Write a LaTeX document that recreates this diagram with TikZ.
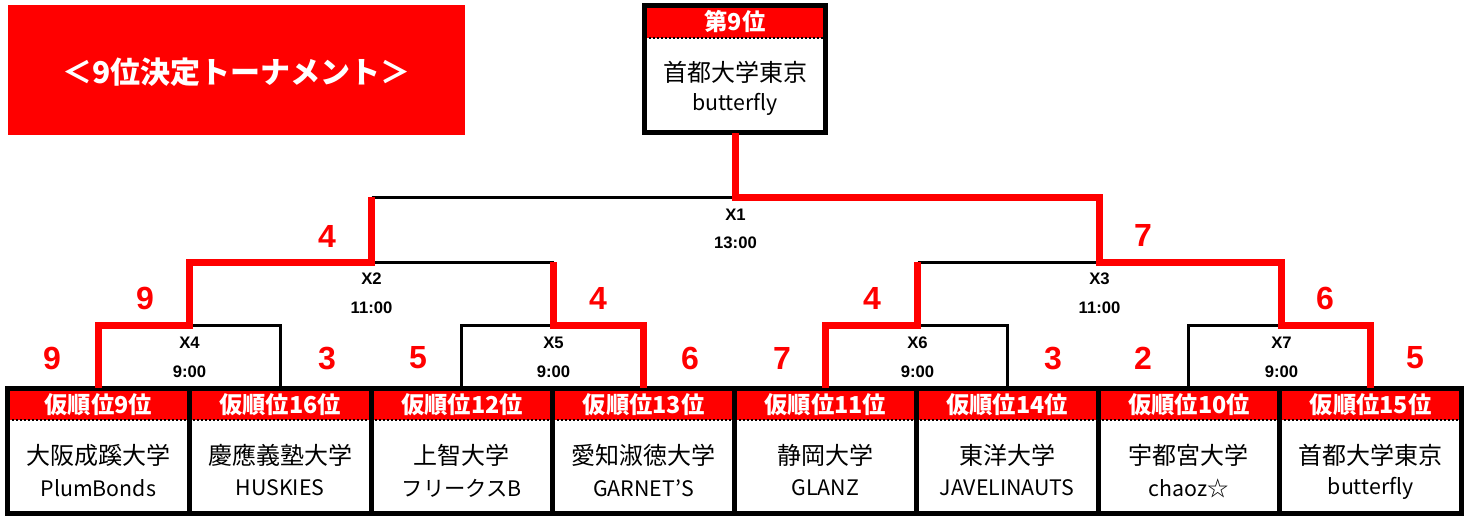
\documentclass[tikz,border=0pt]{standalone}
\usepackage{fontspec}
\usepackage{xcolor}
\usepackage{tikz}
\usetikzlibrary{calc}
\newfontfamily\jpfont{Noto Sans CJK JP}
\newfontfamily\numfont{Liberation Sans}
\definecolor{brred}{RGB}{255, 0, 0}

\begin{document}
\begin{tikzpicture}[x=0.75pt, y=-0.75pt,
    boxline/.style={line width=3.75pt, black},
    dotline/.style={line width=1.5pt, black, dash pattern=on 1.5pt off 1.5pt},
    loseline/.style={line width=2.25pt, black},
    winline/.style={line width=5.25pt, brred, line join=miter},
    titletext/.style={font=\jpfont\bfseries\fontsize{22.5}{22.5}\selectfont, text=white},
    hdtext/.style={font=\jpfont\bfseries\fontsize{17.5}{17.5}\selectfont, text=white},
    jptext/.style={font=\jpfont\fontsize{18}{18}\selectfont},
    entext/.style={font=\jpfont\fontsize{16}{16}\selectfont},
    matchlabel/.style={font=\numfont\bfseries\fontsize{12.5}{12.5}\selectfont},
    score/.style={font=\numfont\bfseries\fontsize{24}{24}\selectfont, text=brred}]
    \useasboundingbox (0,0) rectangle (1469,515);

    % Title
    \fill[brred] (8,5) rectangle (465,135);
    \node[titletext] (title) at (236.5,72) {＜9位決定トーナメント＞};

    % Winner box
    \fill[brred] (644.5,5.5) rectangle (825.5,37.5);
    \draw[dotline] (644.5,37.5) -- (825.5,37.5);
    \draw[boxline] (644.5,5.5) rectangle (825.5,132.5);
    \node[hdtext] (champhd) at (735,22) {第9位};
    \node[jptext] (champjp) at (735,72) {首都大学東京};
    \node[entext] (champen) at (735,104) {butterfly};
    \coordinate (champ) at (735.5,132.5);

    % Team boxes
    \foreach \i/\rk/\jname/\ename in {
        1/9/大阪成蹊大学/PlumBonds,
        2/16/慶應義塾大学/HUSKIES,
        3/12/上智大学/フリークスB,
        4/13/愛知淑徳大学/GARNET’S,
        5/11/静岡大学/GLANZ,
        6/14/東洋大学/JAVELINAUTS,
        7/10/宇都宮大学/chaoz☆,
        8/15/首都大学東京/butterfly} {
        \pgfmathsetmacro\bxl{7.5+181.75*(\i-1)}
        \pgfmathsetmacro\bxr{\bxl+181.75}
        \pgfmathsetmacro\bxc{\bxl+90.875}
        \fill[brred] (\bxl,388) rectangle (\bxr,420);
        \draw[dotline] (\bxl,420) -- (\bxr,420);
        \draw[boxline] (\bxl,388) rectangle (\bxr,513);
        \node[hdtext] (h\i) at (\bxc,405) {仮順位\rk 位};
        \node[jptext] (n\i) at (\bxc,455) {\jname};
        \node[entext] (e\i) at (\bxc,488) {\ename};
        \coordinate (t\i) at (\bxc,388);
    }

    % Match points
    \coordinate (m4) at (189.5,325);
    \coordinate (m5) at (553.5,325);
    \coordinate (m6) at (917.5,325);
    \coordinate (m7) at (1281.5,325);
    \coordinate (m2) at (371.5,262);
    \coordinate (m3) at (1099.5,262);
    \coordinate (m1) at (735.5,197);

    % Losing sides
    \draw[loseline] (t2) |- (m4);
    \draw[loseline] (t3) |- (m5);
    \draw[loseline] (t6) |- (m6);
    \draw[loseline] (t7) |- (m7);
    \draw[loseline] (m5 |- m2) -- (m2);
    \draw[loseline] (m6 |- m3) -- (m3);
    \draw[loseline] (m2 |- m1) -- (m1);

    % Winning sides
    \draw[winline] (t1) |- (m4) |- (m2) -- (m2 |- m1);
    \draw[winline] (t4) |- (m5) -- (m5 |- m2);
    \draw[winline] (t5) |- (m6) -- (m6 |- m3);
    \draw[winline] (t8) |- (m7) |- (m3) |- (m1) -- (champ);

    % Match labels
    \node[matchlabel] (x1) at (735.5,215) {X1};
    \node[matchlabel] (x1t) at (735.5,243) {13:00};
    \node[matchlabel] (x2) at (371.5,279) {X2};
    \node[matchlabel] (x2t) at (371.5,308) {11:00};
    \node[matchlabel] (x3) at (1099.5,279) {X3};
    \node[matchlabel] (x3t) at (1099.5,308) {11:00};
    \node[matchlabel] (x4) at (189.5,343) {X4};
    \node[matchlabel] (x4t) at (189.5,372) {9:00};
    \node[matchlabel] (x5) at (553.5,343) {X5};
    \node[matchlabel] (x5t) at (553.5,372) {9:00};
    \node[matchlabel] (x6) at (917.5,343) {X6};
    \node[matchlabel] (x6t) at (917.5,372) {9:00};
    \node[matchlabel] (x7) at (1281.5,343) {X7};
    \node[matchlabel] (x7t) at (1281.5,372) {9:00};

    % Scores
    \node[score] (s1) at (52,358) {9};
    \node[score] (s2) at (327,358) {3};
    \node[score] (s3) at (418,358) {5};
    \node[score] (s4) at (690,358) {6};
    \node[score] (s5) at (782,358) {7};
    \node[score] (s6) at (1053,358) {3};
    \node[score] (s7) at (1143,358) {2};
    \node[score] (s8) at (1415,358) {5};
    \node[score] (s42) at (145,298) {9};
    \node[score] (s52) at (598,298) {4};
    \node[score] (s62) at (872,298) {4};
    \node[score] (s72) at (1325,298) {6};
    \node[score] (s21) at (327,236) {4};
    \node[score] (s31) at (1143,235) {7};
\end{tikzpicture}
\end{document}
